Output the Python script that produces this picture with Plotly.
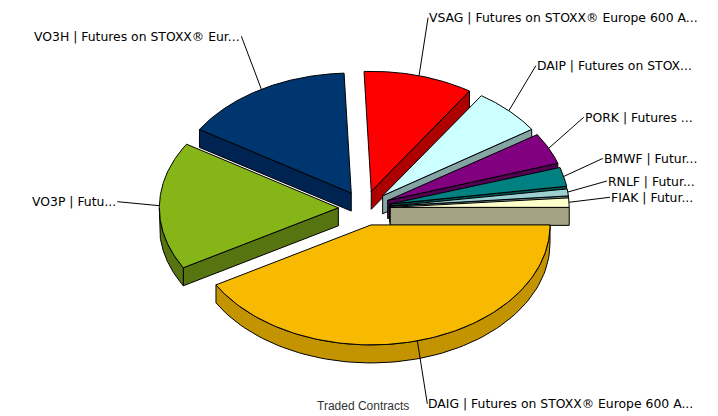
import numpy as np
import plotly.graph_objects as go

# Data: share of traded contracts (%), clockwise from 3 o'clock
labels = ["DAIG | Futures on STOXX® Europe 600 A...", "VO3P | Futu...",
          "VO3H | Futures on STOXX® Eur...", "VSAG | Futures on STOXX® Europe 600 A...",
          "DAIP | Futures on STOX...", "PORK | Futures ...", "BMWF | Futur...",
          "RNLF | Futur...", "FIAK | Futur..."]
shares = [41.67, 17.22, 15.47, 9.89, 6.42, 4.31, 2.64, 1.03, 1.35]
top_colors = ["#F7BA00", "#85B516", "#003670", "#FF0000", "#CCFFFF",
              "#800080", "#008080", "#9CCFD0", "#FFFFCC"]
side_colors = ["#C49400", "#567510", "#002451", "#AD0000", "#85A5A5",
               "#530053", "#005353", "#688A8B", "#A3A383"]
title = "Traded Contracts"

# Layout / projection (pixels)
W, H = 718, 416
CX, CY, A, B = 364.3, 208.1, 179.0, 120.0
EXPLODE, DEPTH = 0.145, 18.0
leader_offsets = [(10, 63), (-42, -4), (-20, -53), (9, -58), (27, -45),
                  (35, -31), (39, -18), (39, -11), (41, -5)]

fig = go.Figure()


def poly(xs, ys, color):
    fig.add_trace(go.Scatter(x=list(xs), y=list(ys), mode="lines", fill="toself",
                             fillcolor=color, line=dict(color="#000000", width=1),
                             hoverinfo="skip", showlegend=False))


fractions = np.array(shares) / sum(shares)
ends = np.cumsum(fractions) * 2 * np.pi
starts = ends - fractions * 2 * np.pi
mids = (starts + ends) / 2
order = np.argsort(np.sin(mids))

annotations = []
for i in order:
    t1, t2, tm = starts[i], ends[i], mids[i]
    ox = CX + EXPLODE * A * np.cos(tm)
    oy = CY + EXPLODE * B * np.sin(tm)
    # cut faces: only those whose outward normal faces the viewer
    for t, facing in ((t1, -np.cos(t1)), (t2, np.cos(t2))):
        if facing > 0.05:
            ex, ey = ox + A * np.cos(t), oy + B * np.sin(t)
            poly([ox, ex, ex, ox, ox], [oy, ey, ey + DEPTH, oy + DEPTH, oy], side_colors[i])
    # outer rim (front-facing part only)
    lo, hi = max(t1, 0.0), min(t2, np.pi)
    if hi > lo:
        ts = np.linspace(lo, hi, 80)
        rx, ry = ox + A * np.cos(ts), oy + B * np.sin(ts)
        poly(np.r_[rx, rx[::-1], rx[0]], np.r_[ry, ry[::-1] + DEPTH, ry[0]], side_colors[i])
    # top face
    ts = np.linspace(t1, t2, 120)
    poly(np.r_[ox, ox + A * np.cos(ts), ox], np.r_[oy, oy + B * np.sin(ts), oy], top_colors[i])

for i in range(len(labels)):
    tm = mids[i]
    ox = CX + EXPLODE * A * np.cos(tm)
    oy = CY + EXPLODE * B * np.sin(tm)
    sx, sy = ox + A * np.cos(tm), oy + B * np.sin(tm)
    dx, dy = leader_offsets[i]
    fig.add_trace(go.Scatter(x=[sx, sx + dx], y=[sy, sy + dy], mode="lines",
                             line=dict(color="#000000", width=1),
                             hoverinfo="skip", showlegend=False))
    left = dx < 0
    annotations.append(dict(x=sx + dx + (-1 if left else 1), y=sy + dy, text=labels[i],
                            xref="x", yref="y", showarrow=False,
                            xanchor="right" if left else "left", yanchor="middle",
                            borderpad=0, borderwidth=0,
                            font=dict(family="DejaVu Sans", size=12.4, color="#000000")))

annotations.append(dict(x=362.8, y=406, text=title, xref="x", yref="y", showarrow=False,
                        xanchor="center", yanchor="middle",
                        font=dict(family="Liberation Sans", size=12, color="#333333")))

fig.update_layout(width=W, height=H, margin=dict(l=0, r=0, t=0, b=0),
                  paper_bgcolor="#FFFFFF", plot_bgcolor="#FFFFFF", annotations=annotations,
                  xaxis=dict(range=[0, W], visible=False, fixedrange=True),
                  yaxis=dict(range=[H, 0], visible=False, fixedrange=True))
fig.write_html("out.html", post_script="document.body.style.margin='0';",
               config={"displayModeBar": False})
